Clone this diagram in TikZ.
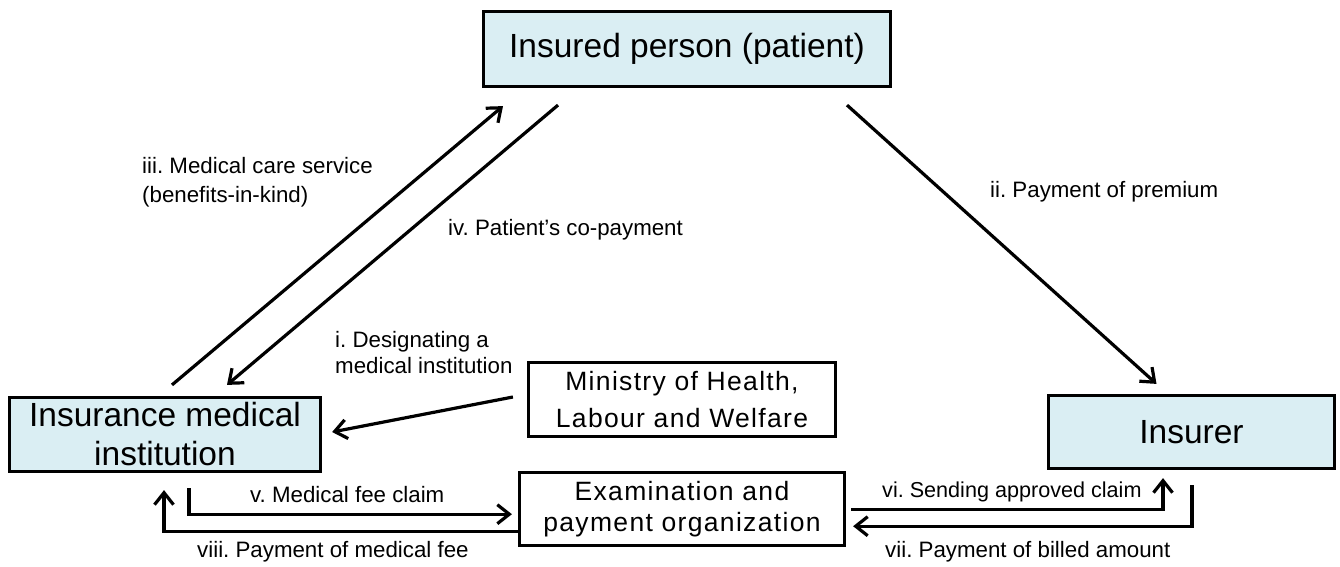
\documentclass[tikz,border=0pt]{standalone}
\usepackage{fontspec}
\setmainfont{Liberation Sans}
\usepackage{xcolor}
\usetikzlibrary{arrows.meta,positioning,calc}
\definecolor{boxblue}{HTML}{DAEEF3}

\begin{document}
\frenchspacing
\begin{tikzpicture}[
    x=1pt, y=-1pt,
    party/.style={rectangle, draw, line width=3.2pt, fill=boxblue, align=center, inner sep=0pt, font=\fontsize{33.5}{39}\selectfont},
    agency/.style={rectangle, draw, line width=3.2pt, fill=white, align=center, inner sep=0pt, font=\fontsize{26.5}{37}\selectfont\addfontfeature{LetterSpace=5}},
    flow/.style={-{Straight Barb[length=12pt,width=19pt]}, line width=3.2pt},
    note/.style={inner sep=0pt, align=left, font=\fontsize{22.3}{29}\selectfont}
]
\useasboundingbox (0,0) rectangle (1340,567);

\node[party, minimum width=407pt, minimum height=75pt] (insured) at (687,49) {Insured person (patient)};
\node[party, minimum width=311pt, minimum height=74pt] (inst) at (165,434.5) {Insurance medical\\institution};
\node[party, minimum width=286pt, minimum height=73pt] (insurer) at (1191.5,432) {Insurer};
\node[agency, minimum width=307pt, minimum height=74pt] (mhlw) at (682,399.5) {Ministry of Health,\\Labour and Welfare};
\node[agency, minimum width=325pt, minimum height=73pt, below=33pt of mhlw,
      font=\fontsize{26.5}{31}\selectfont\addfontfeature{LetterSpace=5}] (exam) {Examination and\\payment organization};

% flows round the patient
\draw[flow] ([xshift=7pt,yshift=11pt]inst.north) -- ([xshift=-184pt,yshift=-18pt]insured.south);
\draw[flow] ([xshift=-129pt,yshift=-17pt]insured.south) -- ([xshift=62pt,yshift=11pt]inst.north);
\draw[flow] ([xshift=160pt,yshift=-17pt]insured.south) -- ([xshift=-35pt,yshift=10pt]insurer.north);
\draw[flow] ([xshift=-14pt,yshift=2.5pt]mhlw.west) -- ([xshift=10pt,yshift=2.5pt]inst.east);

% claims and payments
\draw[flow] ([xshift=24pt,yshift=-15pt]inst.south) |- ([xshift=-6pt,yshift=-5pt]exam.west);
\draw[flow] ([yshift=-22pt]exam.west) -| ([xshift=-1pt,yshift=-17pt]inst.south);
\draw[flow] ([xshift=5pt]exam.east) -| ([xshift=-28.5pt,yshift=-8pt]insurer.south);
\draw[flow] ([xshift=0.5pt,yshift=-15pt]insurer.south) |- ([xshift=7pt,yshift=-17pt]exam.east);

\node[note, anchor=north west] (lbl3) at (142,157) {iii. Medical care service\\(benefits-in-kind)};
\node[note, anchor=base west] (lbl4) at (448,235) {iv. Patient’s co-payment};
\node[note, anchor=base west] (lbl2) at (990,197) {ii. Payment of premium};
\node[note, anchor=north west, font=\fontsize{22.3}{26}\selectfont] (lbl1) at (335,331) {i. Designating a\\medical institution};
\node[note, anchor=base west] (lbl5) at (250,502) {v. Medical fee claim};
\node[note, anchor=base west] (lbl8) at (197,557) {viii. Payment of medical fee};
\node[note, anchor=base west, font=\fontsize{21.6}{29}\selectfont] (lbl6) at (882,497) {vi. Sending approved claim};
\node[note, anchor=base west] (lbl7) at (885,557) {vii. Payment of billed amount};

\end{tikzpicture}
\end{document}
